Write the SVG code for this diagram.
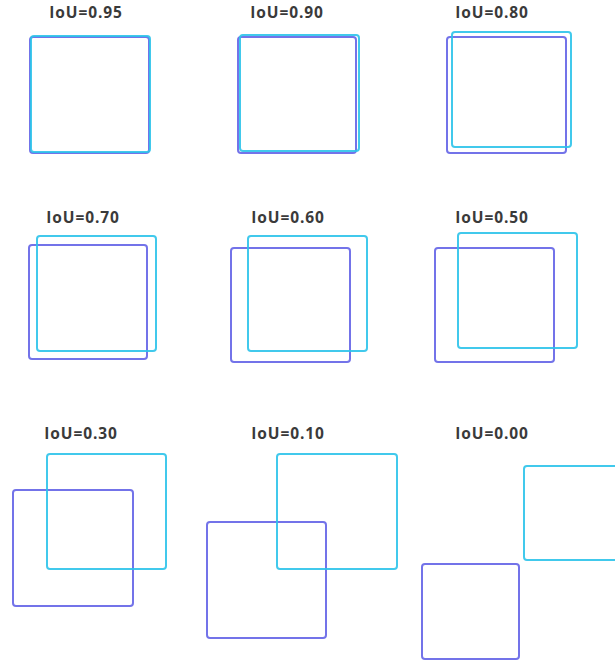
<svg xmlns="http://www.w3.org/2000/svg" width="615" height="662" viewBox="0 0 615 662">
<style>
.lbl{font-family:"Open Sans","Liberation Sans",sans-serif;font-weight:bold;font-size:15.5px;fill:#3a3a3a;text-anchor:middle;letter-spacing:0.9px}
.b{fill:none;stroke:#5050e4;stroke-opacity:0.8;stroke-width:2}
.c{fill:none;stroke:#2cc3ea;stroke-opacity:0.9;stroke-width:2}
</style>
<rect width="615" height="662" fill="#ffffff"/>
<g id="p095">
<text class="lbl" x="86" y="18">IoU=0.95</text>
<rect class="b" x="30" y="37" width="119" height="116" rx="3"/>
<rect class="c" x="31" y="36" width="119" height="116" rx="3"/>
</g>
<g id="p090">
<text class="lbl" x="287" y="18">IoU=0.90</text>
<rect class="b" x="238" y="37" width="118" height="116" rx="3"/>
<rect class="c" x="240" y="35" width="119" height="116" rx="3"/>
</g>
<g id="p080">
<text class="lbl" x="492" y="18">IoU=0.80</text>
<rect class="b" x="447" y="37" width="119" height="116" rx="3"/>
<rect class="c" x="452" y="32" width="119" height="115" rx="3"/>
</g>
<g id="p070">
<text class="lbl" x="83" y="223">IoU=0.70</text>
<rect class="b" x="29" y="245" width="118" height="114" rx="3"/>
<rect class="c" x="37" y="236" width="119" height="115" rx="3"/>
</g>
<g id="p060">
<text class="lbl" x="288" y="223">IoU=0.60</text>
<rect class="b" x="231" y="248" width="119" height="114" rx="3"/>
<rect class="c" x="248" y="236" width="119" height="115" rx="3"/>
</g>
<g id="p050">
<text class="lbl" x="492" y="223">IoU=0.50</text>
<rect class="b" x="435" y="248" width="119" height="114" rx="3"/>
<rect class="c" x="458" y="233" width="119" height="115" rx="3"/>
</g>
<g id="p030">
<text class="lbl" x="81" y="439">IoU=0.30</text>
<rect class="b" x="13" y="490" width="120" height="116" rx="3"/>
<rect class="c" x="47" y="454" width="119" height="115" rx="3"/>
</g>
<g id="p010">
<text class="lbl" x="288" y="439">IoU=0.10</text>
<rect class="b" x="207" y="522" width="119" height="116" rx="3"/>
<rect class="c" x="277" y="454" width="120" height="115" rx="3"/>
</g>
<g id="p000">
<text class="lbl" x="492" y="439">IoU=0.00</text>
<rect class="b" x="422" y="564" width="97" height="95" rx="3"/>
<rect class="c" x="524" y="466" width="100" height="94" rx="3"/>
</g>
</svg>
